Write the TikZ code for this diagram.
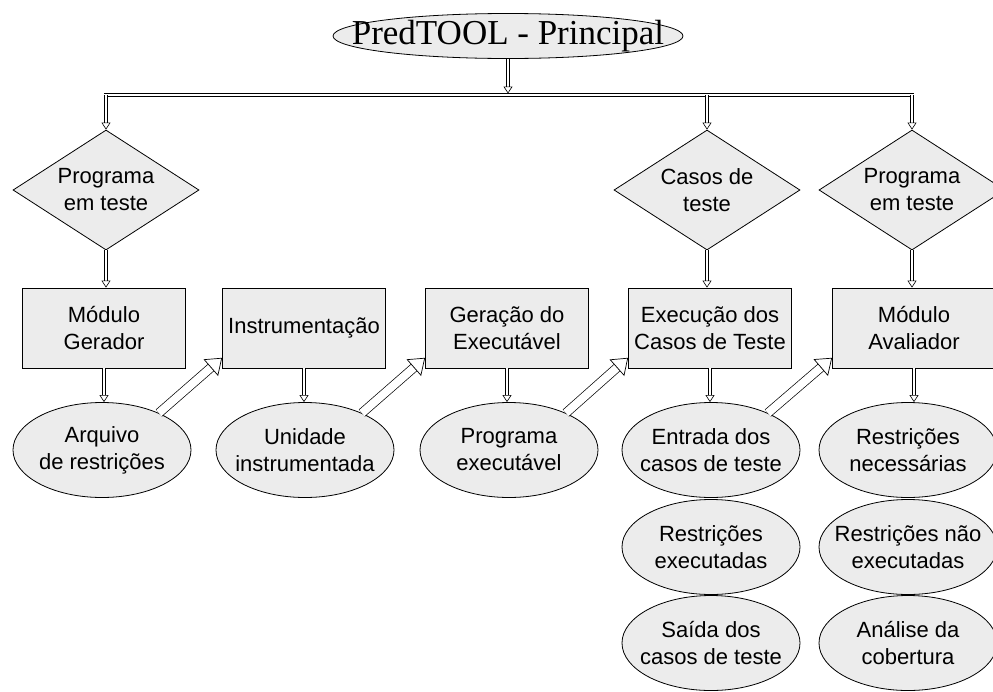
\documentclass[tikz,border=0pt]{standalone}
\usepackage{fontspec}
\setsansfont{Liberation Sans}
\newfontfamily\titulofont{Liberation Serif}
\usetikzlibrary{shapes.geometric,arrows.meta}
\definecolor{fundo}{HTML}{ECECEC}

\begin{document}
\begin{tikzpicture}[x=1pt, y=-1pt,
    forma/.style={draw, line width=0.8pt, fill=fundo, font=\sffamily\fontsize{22}{27}\selectfont, align=center},
    caixa/.style={forma, rectangle, minimum width=163pt, minimum height=80pt, inner sep=0pt},
    losango/.style={forma, diamond, aspect=1.55, minimum width=186pt, minimum height=120pt, inner sep=0pt},
    elipse/.style={forma, ellipse, minimum width=178pt, minimum height=95pt, inner xsep=-20pt, inner ysep=0pt},
    seta/.style={line width=0.6pt, double=white, double distance=2.4pt, -{Triangle[open, length=7pt, width=9pt, line width=0.6pt]}},
    setagrossa/.style={line width=0.7pt, double=white, double distance=8pt, -{Triangle[open, length=15pt, width=22pt, line width=0.7pt]}}]
    \useasboundingbox (0,0) rectangle (993,691);
    \node[forma, ellipse, font=\titulofont\fontsize{35}{40}\selectfont, minimum width=350pt, minimum height=45pt, inner xsep=-40pt, inner ysep=-2pt] (princ) at (508,36) {PredTOOL - Principal};
    % entradas
    \node[losango] (prog1) at (106,190) {Programa\\em teste};
    \node[losango] (casos) at (707,190) {Casos de\\teste};
    \node[losango] (prog2) at (912,190) {Programa\\em teste};
    % modulos
    \node[caixa] (gerador) at (104,328) {Módulo\\Gerador};
    \node[caixa] (instr) at (304,328) {Instrumentação};
    \node[caixa] (geracao) at (507,328) {Geração do\\Executável};
    \node[caixa] (execucao) at (710,328) {Execução dos\\Casos de Teste};
    \node[caixa] (avaliador) at (914,328) {Módulo\\Avaliador};
    % saidas
    \node[elipse] (arquivo) at (102,450) {Arquivo\\de restrições};
    \node[elipse] (unidade) at (305,450) {Unidade\\instrumentada};
    \node[elipse] (progexec) at (509,450) {Programa\\executável};
    \node[elipse] (entrada) at (711,450) {Entrada dos\\casos de teste};
    \node[elipse] (rexec) at (711,547) {Restrições\\executadas};
    \node[elipse] (saida) at (711,643) {Saída dos\\casos de teste};
    \node[elipse] (rnec) at (908,450) {Restrições\\necessárias};
    \node[elipse] (rnao) at (908,547) {Restrições não\\executadas};
    \node[elipse] (analise) at (908,643) {Análise da\\cobertura};
    % barra
    \coordinate (barraE) at (104,95);
    \coordinate (barraD) at (914,95);
    \draw[line width=0.6pt, double=white, double distance=2.4pt] (barraE) -- (barraD);
    \draw[seta, shorten >=1.5pt] (princ.south) -- (princ.south |- barraE);
    \foreach \d in {prog1, casos, prog2} {
        \draw[seta] (\d.north |- barraE) -- (\d.north);
    }
    \draw[seta] (prog1.south) -- (prog1.south |- gerador.north);
    \draw[seta] (casos.south) -- (casos.south |- execucao.north);
    \draw[seta] (prog2.south) -- (prog2.south |- avaliador.north);
    \foreach \a/\b in {gerador/arquivo, instr/unidade, geracao/progexec, execucao/entrada, avaliador/rnec} {
        \draw[seta] (\a.south) -- (\a.south |- \b.north);
    }
    \foreach \a/\b in {arquivo/instr, unidade/geracao, progexec/execucao, entrada/avaliador} {
        \draw[setagrossa] (\a.33) -- (\b.200);
    }
\end{tikzpicture}
\end{document}
